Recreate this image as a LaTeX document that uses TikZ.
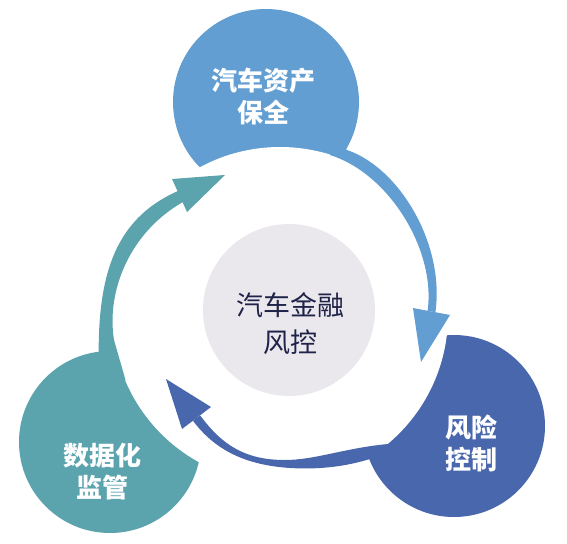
\documentclass[tikz,border=0pt]{standalone}
\usepackage{fontspec}
\newfontfamily\cjk{Noto Sans CJK SC}
\definecolor{topc}{HTML}{639ED2}
\definecolor{brc}{HTML}{4967AD}
\definecolor{tealc}{HTML}{5BA3AD}
\definecolor{grayc}{HTML}{EAE8EC}
\definecolor{navy}{HTML}{1F2349}
\tikzset{
  lbl/.style={text=white, align=center, inner sep=0pt,
    font=\cjk\bfseries\fontsize{19.5pt}{24.5pt}\selectfont},
  ctr/.style={text=navy, align=center, inner sep=0pt,
    font=\cjk\fontsize{20.25pt}{27.75pt}\selectfont}
}
\begin{document}
\begin{tikzpicture}[x=0.75pt,y=-0.75pt]
\useasboundingbox (0,0) rectangle (567,543);
% coloured circles
\fill[topc] (266,102) circle[radius=93];
\fill[brc] (454,426) circle[radius=91];
\fill[tealc] (110,442) circle[radius=91];
% big white circle cutting them
\fill[white] (280,315) circle[radius=168];
% teal arrow
\fill[tealc] (110,400) -- (99,372) .. controls (96,280) and (112,220) .. (178,191)
  -- (183,202) .. controls (130,232) and (106,291) .. (114,340) -- (125.5,380) -- cycle;
\fill[tealc] (172,179) -- (225,175) -- (187,212) -- cycle;
% light blue arrow
\fill[topc] (330,135) -- (347,150) .. controls (400,168) and (445,245) .. (435.4,312.2)
  -- (427.6,310.8) .. controls (436,250) and (389,173.5) .. (330,155) -- cycle;
\fill[topc] (413,308) -- (421,362) -- (450,315) -- cycle;
% dark blue arrow
\fill[brc] (385,470) -- (370,459) .. controls (350,465) and (325,470) .. (290,468)
  .. controls (245,465) and (215,450) .. (192.9,420.7)
  -- (200.1,415.3) .. controls (222,445) and (245,460) .. (285,460)
  .. controls (315,460) and (345,448) .. (388,444) -- cycle;
\fill[brc] (166,379) -- (211,407) -- (182,429) -- cycle;
% centre
\fill[grayc] (289,310) circle[radius=86];
\node[ctr] (t0) at (290,323.5) {汽车金融\\风控};
\node[lbl] (t1) at (263,96.5) {汽车资产\\保全};
\node[lbl] (t2) at (471,443.5) {风险\\控制};
\node[lbl] (t3) at (102,471.5) {数据化\\监管};
\end{tikzpicture}
\end{document}
